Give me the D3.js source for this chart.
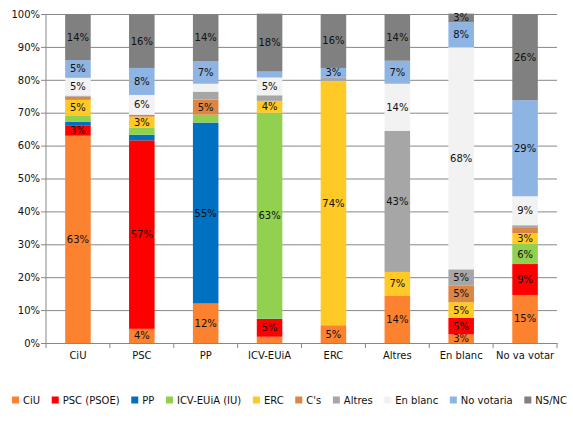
<!DOCTYPE html>
<html>
<head>
<meta charset="utf-8">
<script src="https://cdn.jsdelivr.net/npm/d3@7"></script>
<style>
  body { margin: 0; background: #fff; }
  text { font-family: "DejaVu Sans", Verdana, sans-serif; }
</style>
</head>
<body>
<svg id="chart" width="573" height="421"></svg>
<script>
const categories = ['CiU', 'PSC', 'PP', 'ICV-EUiA', 'ERC', 'Altres', 'En blanc', 'No va votar'];
const seriesNames = ['CiU', 'PSC (PSOE)', 'PP', 'ICV-EUiA (IU)', 'ERC', "C's", 'Altres', 'En blanc', 'No votaria', 'NS/NC'];
const seriesColors = ['#fd8230', '#ff0000', '#0070c0', '#92d050', '#ffc926', '#dd8542', '#a6a6a6', '#f2f2f2', '#8eb4e3', '#808080'];

// percentage of each answer within each group (one array per series)
const ciu      = [63,   4.3, 12,   1.9,  5.4,  14.3, 2.6,  14.6];
const psc      = [3,    57.3, 0,   5.4,  0,    0,    5.0,  9.4];
const pp       = [1.2,  1.7, 55,   0.1,  0,    0,    0,    0];
const icv      = [2,    2.1, 2.4,  62.6, 0,    0,    0,    6.1];
const erc      = [4.7,  3.4, 0,    3.6,  74.2, 7.3,  4.8,  3.3];
const cs       = [1,    0.6, 4.6,  0,    0,    0,    5.0,  1.8];
const altres   = [0.3,  0,   2.4,  1.7,  1,    42.9, 5.0,  0.6];
const enBlanc  = [5.4,  6,   2.4,  5.4,  0,    14.3, 67.5, 8.8];
const noVotaria= [5.4,  8.2, 6.9,  1.8,  3,    7,    7.6,  29.2];
const nsnc     = [14,   16.3, 14.2, 17.6, 16.4, 14.2, 2.6,  26.2];
const yTicks = [0, 10, 20, 30, 40, 50, 60, 70, 80, 90, 100];

const seriesValues = [ciu, psc, pp, icv, erc, cs, altres, enBlanc, noVotaria, nsnc];
const table = categories.map((c, i) => {
  const row = { cat: c };
  seriesNames.forEach((s, j) => { row[s] = seriesValues[j][i]; });
  return row;
});

const margin = { top: 14, right: 16, bottom: 78, left: 46 };
const svg = d3.select('#chart');
const width = +svg.attr('width');
const height = +svg.attr('height');
const innerWidth = width - margin.left - margin.right;
const innerHeight = height - margin.top - margin.bottom;

const g = svg.append('g')
  .attr('transform', `translate(${margin.left},${margin.top})`);

const xScale = d3.scaleBand()
  .domain(categories)
  .range([0, innerWidth])
  .paddingInner(0.6)
  .paddingOuter(0.3);

const yScale = d3.scaleLinear()
  .domain([0, 100])
  .range([innerHeight, 0]);

const colorScale = d3.scaleOrdinal()
  .domain(seriesNames)
  .range(seriesColors);

// gridlines + y axis
const yAxisG = g.append('g')
  .call(d3.axisLeft(yScale)
    .tickValues(yTicks)
    .tickFormat(d => d + '%')
    .tickSize(-innerWidth)
    .tickPadding(6));
yAxisG.select('.domain').remove();
yAxisG.selectAll('.tick line').attr('stroke', '#878787');
yAxisG.selectAll('.tick text').attr('font-size', 10).attr('fill', '#111');
yAxisG.selectAll('.tick').append('line')
  .attr('x1', -5).attr('x2', 0).attr('stroke', '#878787');

// stacked bars
const stack = d3.stack().keys(seriesNames);
const stacked = stack(table);

const layers = g.selectAll('.layer').data(stacked)
  .enter().append('g')
    .attr('class', 'layer')
    .attr('fill', d => colorScale(d.key));

layers.selectAll('rect').data(d => d)
  .enter().append('rect')
    .attr('x', d => xScale(d.data.cat))
    .attr('width', xScale.bandwidth())
    .attr('y', d => yScale(d[1]))
    .attr('height', d => yScale(d[0]) - yScale(d[1]));

layers.selectAll('text').data(d => d.filter(p => Math.round(p[1] - p[0]) >= 3))
  .enter().append('text')
    .attr('x', d => xScale(d.data.cat) + xScale.bandwidth() / 2)
    .attr('y', d => yScale((d[0] + d[1]) / 2))
    .attr('dy', '0.35em')
    .attr('text-anchor', 'middle')
    .attr('font-size', 10)
    .attr('fill', '#111')
    .text(d => Math.round(d[1] - d[0]) + '%');

// axis lines
g.append('line')
  .attr('x1', 0).attr('x2', 0)
  .attr('y1', 0).attr('y2', innerHeight)
  .attr('stroke', '#878787');

const xAxisG = g.append('g')
  .attr('transform', `translate(0,${innerHeight})`)
  .call(d3.axisBottom(xScale).tickSize(0).tickPadding(9));
xAxisG.select('.domain').attr('stroke', '#878787');
xAxisG.selectAll('.tick text').attr('font-size', 10).attr('fill', '#111');

const step = xScale.step();
const x0 = xScale(categories[0]) - xScale.paddingOuter() * step;
xAxisG.selectAll('.sep').data(d3.range(categories.length + 1))
  .enter().append('line')
    .attr('class', 'sep')
    .attr('x1', i => x0 + i * step)
    .attr('x2', i => x0 + i * step)
    .attr('y1', 0).attr('y2', 5)
    .attr('stroke', '#878787');

// legend
const legendG = svg.append('g')
  .attr('transform', `translate(0, 400)`);
const items = legendG.selectAll('.item').data(seriesNames)
  .enter().append('g')
    .attr('class', 'item');
items.append('rect')
  .attr('y', -3.5)
  .attr('width', 7).attr('height', 7)
  .attr('fill', d => colorScale(d));
items.append('text')
  .attr('x', 11)
  .attr('dy', '0.35em')
  .attr('font-size', 10)
  .attr('fill', '#111')
  .text(d => d);

const widths = [];
items.each(function () {
  widths.push(11 + d3.select(this).select('text').node().getComputedTextLength());
});
const legendStart = 12;
const legendEnd = 567;
const gap = (legendEnd - legendStart - d3.sum(widths)) / (widths.length - 1);
let pos = legendStart;
items.attr('transform', (d, i) => {
  const t = `translate(${pos},0)`;
  pos += widths[i] + gap;
  return t;
});
</script>
</body>
</html>
